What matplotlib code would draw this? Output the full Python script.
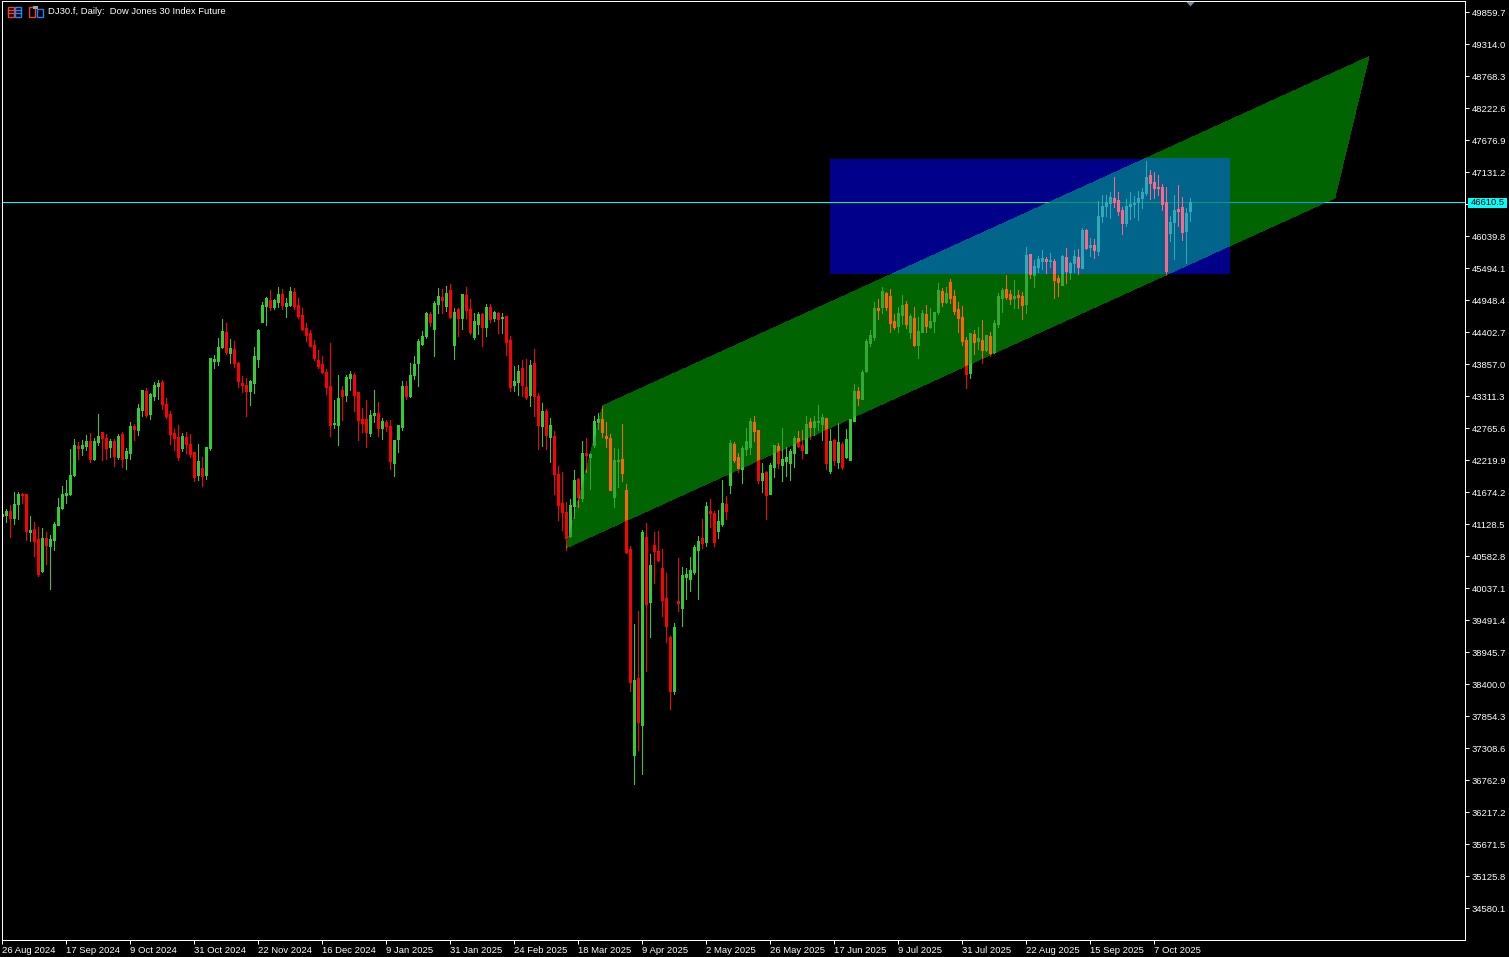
"""MT5 style daily candle chart of DJ30.f with channel, rectangle and price line."""

import matplotlib
matplotlib.use("Agg")
import matplotlib.pyplot as plt
from matplotlib.patches import PathPatch, Rectangle
from matplotlib.path import Path
from matplotlib.transforms import Bbox

plt.rcParams["font.family"] = ["Liberation Sans", "DejaVu Sans"]

# ---------------------------------------------------------------------------
# Data (prices)
# ---------------------------------------------------------------------------

highs = [
    41308, 41393, 41461, 41683, 41683, 41671, 41649, 41273, 41171, 41086, 41069, 41001, 40949, 41171, 41580,
    41785, 41887, 42416, 42586, 42535, 42569, 42655, 42689, 42603, 43013, 42706, 42672, 42586, 42586, 42672,
    42706, 42433, 42876, 42842, 43183, 43422, 43456, 43371, 43558, 43592, 43592, 43286, 43064, 42757, 42825,
    42689, 42706, 42672, 42365, 42501,
    42279, 42450,
    43968, 44019, 44309, 44633, 44565, 44292, 44258, 43900, 43661, 43627, 43593, 44156, 44462, 44923, 45008,
    45127, 44974, 45179, 45145, 44991, 45179, 45162, 44991, 44821, 44565, 44445, 44275, 44104, 44002, 43780,
    44224, 43252, 43678, 43490, 43678, 43746, 43712, 43388, 43115, 43252, 43081, 43422, 43218, 42945, 42911,
    42911, 42570, 42825, 43576, 43576, 43883, 44002, 44292, 44428, 44752, 44752, 44940, 45162, 45145, 45196,
    45230, 44821, 44821, 45059, 45179, 44974, 44735, 44752,
    44735, 44889, 44889, 44769, 44752, 44735, 44684, 44343, 43832, 43849, 43934, 43951, 43934, 44121, 43371,
    43201, 43098, 42945, 42723, 42126, 42024, 41512, 41564, 42058, 41922, 42553, 42604, 42348, 42979, 43030,
    43149, 42877, 42672, 42433, 42416, 42843,
    41819,
    40762, 39432, 39653, 41034, 41154, 40625, 41000, 41017, 40710, 40301, 39227, 39449, 40557, 40404, 40386,
    40574, 40779, 40932, 41222, 41512,
    41564, 41359, 41376, 41888, 41615, 42570, 42536, 42348, 42468, 42775, 42945, 42979, 42740, 42178, 42041,
    42178, 42485, 42519, 42775, 42451, 42416, 42638, 42723, 42740, 42979, 42945, 42979, 43167, 43013, 42945,
    42757, 42587, 42860, 42536, 42757, 42928, 43525, 43474,
    43763, 44292, 44445, 44923, 44974, 45179, 45093, 45144, 44718, 44838, 45042, 44940, 44718, 44838, 44667,
    44786, 44872, 44821, 44752, 45247, 45162, 45179, 45315, 45127, 44923, 44855, 44326, 44394, 44445, 44497,
    44616, 44360, 44411, 44616, 45076, 45162, 45383, 45127, 45298, 45127, 45093,
    45861, 45742, 45639, 45708, 45810, 45690, 45759, 45656, 45383, 45725, 45844, 45605, 45810, 45827, 46185,
    46168, 46014, 45997, 46645, 46748, 46748, 46799, 47055, 46799, 46543, 46679, 46799, 46731, 46816, 46867,
    47327, 47174, 47140, 47089, 46935, 46884, 46390, 46748, 46918, 46714, 46526, 46697,
]

body_tops = [
    41308, 41359, 41359, 41478, 41649, 41649, 41649, 41035, 41052, 40881, 40898, 40898, 40881, 41137, 41427,
    41649, 41666, 41973, 42484, 42467, 42484, 42552, 42552, 42552, 42638, 42706, 42603, 42552, 42552, 42638,
    42672, 42382, 42808, 42808, 43115, 43422, 43405, 43354, 43507, 43541, 43558, 43183, 43013, 42689, 42621,
    42638, 42621, 42501, 42365, 42211,
    42092, 42450,
    43968, 43951, 44156, 44428, 44411, 44138, 44121, 43883, 43542, 43508, 43576, 44002, 44445, 44872, 44991,
    44957, 44957, 45059, 45059, 44906, 45110, 45093, 44872, 44701, 44480, 44394, 44190, 43934, 43866, 43729,
    43490, 42860, 43286, 43422, 43644, 43695, 43678, 43388, 42928, 42928, 42996, 43030, 43030, 42894, 42877,
    42808, 42570, 42825, 43490, 43490, 43678, 43866, 44258, 44343, 44735, 44718, 44906, 45025, 45008, 45076,
    45127, 44752, 44803, 45059, 45042, 44803, 44599, 44718,
    44718, 44838, 44838, 44752, 44735, 44667, 44684, 44275, 43576, 43746, 43797, 43473, 43849, 43883, 43320,
    43064, 43064, 42825, 42638, 41990, 41495, 41342, 41461, 41888, 41905, 42348, 42348, 42331, 42894, 42928,
    42928, 42638, 42604, 42229, 42229, 42246,
    41717,
    40710, 38477, 38511, 41000, 40915, 40438, 40779, 40676, 40386, 39875, 39210, 39380, 39824, 40267, 40284,
    40352, 40745, 40847, 40898, 41444,
    41359, 41325, 41189, 41496, 41479, 42519, 42502, 42280, 42433, 42553, 42894, 42877, 42740, 42007, 42024,
    42144, 42485, 42468, 42246, 42280, 42382, 42604, 42604, 42485, 42843, 42877, 42894, 42894, 42962, 42945,
    42553, 42570, 42536, 42502, 42587, 42928, 43405, 43405,
    43729, 44258, 44360, 44821, 44821, 45110, 45076, 45025, 44599, 44735, 44872, 44889, 44684, 44650, 44428,
    44735, 44718, 44599, 44752, 45127, 45110, 45076, 45264, 45025, 44803, 44667, 44275, 44394, 44377, 44309,
    44275, 44360, 44343, 44565, 45025, 45127, 45144, 45059, 45025, 45042, 45025,
    45725, 45742, 45537, 45656, 45673, 45656, 45639, 45622, 45332, 45708, 45690, 45588, 45708, 45690, 46151,
    46151, 45895, 45895, 46390, 46560, 46628, 46714, 46697, 46662, 46492, 46560, 46594, 46611, 46697, 46799,
    47055, 47089, 46969, 46884, 46884, 46628, 46287, 46492, 46509, 46543, 46441, 46628,
]

body_bottoms = [
    41273, 41290, 41239, 41239, 41478, 41631, 41018, 41001, 40847, 40284, 40336, 40779, 40762, 40864, 41120,
    41410, 41631, 41649, 41973, 42433, 42433, 42467, 42245, 42245, 42535, 42603, 42433, 42450, 42297, 42279,
    42245, 42262, 42348, 42757, 42740, 43081, 42996, 43013, 43320, 43490, 43183, 42979, 42672, 42603, 42279,
    42433, 42501, 42331, 41938, 41973,
    41955, 41973,
    42433, 43917, 43917, 44156, 44070, 44053, 43883, 43576, 43508, 43405, 43405, 43542, 43951, 44582, 44855,
    44838, 44838, 44923, 44872, 44855, 44872, 44855, 44684, 44462, 44360, 44173, 43968, 43832, 43729, 43473,
    42825, 42842, 42825, 43320, 43337, 43627, 43337, 42911, 42860, 42706, 42689, 42996, 42774, 42774, 42808,
    42212, 42178, 42587, 42791, 43320, 43320, 43678, 43883, 44207, 44343, 44582, 44462, 44889, 44957, 44855,
    44667, 44190, 44650, 44650, 44786, 44411, 44326, 44548,
    44497, 44497, 44633, 44650, 44633, 44650, 44241, 43473, 43508, 43559, 43508, 43303, 43337, 43320, 42825,
    42808, 42655, 42621, 41990, 41461, 41342, 40899, 40933, 41444, 41598, 41581, 42314, 42280, 42484, 42877,
    42706, 42604, 41717, 41598, 42212, 42007,
    40659,
    38442, 37198, 37760, 37709, 39773, 39807, 40676, 40523, 39841, 39397, 38289, 38289, 39790, 39704, 40233,
    40199, 40318, 40693, 40813, 40830,
    41325, 40831, 41017, 41137, 41359, 41803, 42229, 42092, 42075, 42416, 42451, 42723, 41888, 41888, 41632,
    41649, 42109, 42178, 42144, 42212, 42178, 42348, 42468, 42399, 42348, 42792, 42792, 42877, 42843, 42178,
    42041, 42229, 42195, 42109, 42280, 42229, 42894, 43286,
    43269, 43746, 44224, 44326, 44786, 44838, 44838, 44565, 44497, 44514, 44701, 44548, 44411, 44190, 44190,
    44411, 44514, 44497, 44599, 44752, 44923, 44923, 44991, 44769, 44650, 44258, 43695, 43712, 44241, 44258,
    44104, 44104, 44053, 44070, 44548, 44991, 45008, 44974, 44991, 45008, 44872,
    44889, 45401, 45383, 45520, 45622, 45622, 45622, 45298, 45264, 45213, 45452, 45435, 45588, 45520, 45503,
    45844, 45861, 45810, 45793, 46390, 46560, 46611, 46628, 46475, 46270, 46270, 46560, 46594, 46628, 46697,
    46782, 46952, 46867, 46867, 46594, 45452, 46100, 46287, 46475, 46117, 46134, 46475,
]

lows = [
    41273, 41171, 40915, 41137, 41222, 41495, 40864, 40847, 40591, 40250, 40318, 40455, 40029, 40694, 41120,
    41393, 41495, 41631, 41955, 42245, 42314, 42399, 42194, 42228, 42484, 42228, 42245, 42279, 42126, 42245,
    42109, 42075, 42245, 42569, 42655, 42979, 42962, 42927, 43251, 43268, 43098, 42945, 42501, 42399, 42228,
    42382, 42348, 42279, 41870, 41887,
    41785, 41904,
    42399, 43797, 43849, 44138, 44036, 43883, 43814, 43473, 43388, 42979, 43166, 43371, 43814, 44582, 44531,
    44786, 44803, 44838, 44803, 44667, 44855, 44803, 44650, 44445, 44258, 44173, 43934, 43797, 43712, 43354,
    42638, 42774, 42484, 42911, 43235, 43422, 43064, 42570, 42706, 42450, 42638, 42877, 42638, 42587, 42723,
    42075, 41956, 42365, 42740, 43269, 43303, 43610, 43490, 44190, 44309, 44514, 44002, 44735, 44735, 44769,
    44650, 43951, 44343, 44462, 44650, 44377, 44292, 44377,
    44173, 44343, 44582, 44599, 44394, 44394, 44019, 43405, 43405, 43337, 43320, 43269, 43149, 42979, 42416,
    42467, 42416, 42195, 41649, 41205, 41035, 40694, 40916, 41240, 41427, 41530, 42024, 41734, 42450, 42757,
    42621, 42450, 41717, 41427, 41768, 41871,
    40642,
    38289, 36703, 37283, 36874, 38630, 39210, 40131, 40506, 39568, 39125, 37982, 38238, 39653, 39397, 39858,
    39994, 40284, 39858, 40728, 40762,
    41086, 40762, 40898, 41103, 41223, 41666, 42195, 42024, 41837, 42314, 42331, 42553, 41837, 41683, 41223,
    41649, 41939, 42092, 41871, 41956, 41888, 42109, 42451, 42263, 42348, 42587, 42655, 42740, 42570, 42075,
    42007, 42144, 42092, 42075, 42263, 42229, 42894, 43167,
    43269, 43729, 44173, 44275, 44633, 44735, 44786, 44411, 44462, 44411, 44548, 44479, 44309, 44173, 43968,
    44411, 44411, 44479, 44411, 44718, 44855, 44906, 44906, 44718, 44411, 44190, 43456, 43627, 44036, 44121,
    43883, 44087, 44002, 44053, 44497, 44752, 44974, 44889, 44821, 44821, 44633,
    44736, 45332, 45179, 45435, 45486, 45418, 45520, 44991, 45025, 45213, 45247, 45315, 45435, 45401, 45503,
    45827, 45708, 45673, 45725, 46287, 46390, 46355, 46543, 46407, 46083, 46219, 46338, 46373, 46321, 46526,
    46748, 46679, 46697, 46748, 46492, 45383, 45963, 45656, 46219, 45980, 45588, 46304,
]

# u = close above open, d = close below open
directions = (
    "uuduuddudd" "uduuuuuuud" "uuduuddudu" "duuduuduuu" "dddddudddu"
    "duuuuududd" "dduuuuuduu" "duuddddddd" "ddduuduudd" "dduududduu"
    "uduuuuuduu" "dudududduu" "dudududduu" "dduddududd" "dduududuuu"
    "ddduudddud" "ududddddud" "uuuuududdu" "ududduuudd" "uduuduuuud"
    "duduuududu" "duuuduuuud" "uddduududu" "uduuududdd" "ddudududuu"
    "uddudduduu" "ududduduud" "ududuuuudd" "duuuuuuddd" "dduudduu"
)

price_ticks = [
    49859.7, 49314.0, 48768.3, 48222.6, 47676.9, 47131.2, 46585.5, 46039.8, 45494.1, 44948.4,
    44402.7, 43857.0, 43311.3, 42765.6, 42219.9, 41674.2, 41128.5, 40582.8, 40037.1, 39491.4,
    38945.7, 38400.0, 37854.3, 37308.6, 36762.9, 36217.2, 35671.5, 35125.8, 34580.1,
]
hidden_tick = 46585.5

date_labels = [
    "26 Aug 2024", "17 Sep 2024", "9 Oct 2024", "31 Oct 2024", "22 Nov 2024", "16 Dec 2024",
    "9 Jan 2025", "31 Jan 2025", "24 Feb 2025", "18 Mar 2025", "9 Apr 2025", "2 May 2025",
    "26 May 2025", "17 Jun 2025", "9 Jul 2025", "31 Jul 2025", "22 Aug 2025", "15 Sep 2025",
    "7 Oct 2025",
]
date_step = 16

# objects on the chart, (bar number, price)
channel_pts = [(140.9, 40728), (150.1, 43149), (341.6, 49101), (333.1, 46696)]
rect_bars = (207.0, 306.9)
rect_prices = (45400, 47362)
last_price = 46610.5
marker_bar = 297
marker_price = 50047

UP = "#32CD32"
DOWN = "#FF0000"
GREEN = "#006400"
BLUE = "#00008B"
CYAN = "#00FFFF"

W, H = 1509, 957
px = 72 / 100  # one pixel in points


def xor(c1, c2):
    """MT5 paints its objects with XOR, candles on the fill change colour that way."""
    a = int(c1[1:], 16)
    b = int(c2[1:], 16)
    return f"#{a ^ b:06X}"


def draw_candles(ax, tint, clip):
    xs = list(range(len(highs)))
    colors = []
    for d in directions:
        base = UP if d == "u" else DOWN
        colors.append(xor(base, tint) if tint else base)
    wicks = ax.vlines(xs, lows, highs, colors=colors, linewidths=px, zorder=3)
    bodies = ax.vlines(xs, body_bottoms, body_tops, colors=colors, linewidths=3 * px, zorder=3)
    for coll in (wicks, bodies):
        coll.set_antialiased(False)
        coll.set_capstyle("butt")
        if clip is not None:
            coll.set_clip_path(clip, transform=ax.transData)


def main():
    sizes = [len(highs), len(lows), len(body_tops), len(body_bottoms), len(directions)]
    if len(set(sizes)) != 1:
        raise ValueError(f"series lengths differ: {sizes}")

    fig = plt.figure(figsize=(W / 100, H / 100), dpi=100, facecolor="black")
    # the .4/.6 keep the spines on the same pixel rows as the reference after snapping
    ax = fig.add_axes([2.4 / W, 16.6 / H, 1463 / W, 939 / H], facecolor="black")
    ax.set_xlim(0, 1463 / 4)
    ax.set_ylim(34034.5, 50047.3)

    channel = Path(channel_pts + [channel_pts[0]], closed=True)
    rect = Path([(rect_bars[0], rect_prices[0]), (rect_bars[0], rect_prices[1]),
                 (rect_bars[1], rect_prices[1]), (rect_bars[1], rect_prices[0]),
                 (rect_bars[0], rect_prices[0])], closed=True)
    box = Bbox.from_extents(rect_bars[0], rect_prices[0], rect_bars[1], rect_prices[1])
    overlap = channel.clip_to_bbox(box)

    overlap_tint = xor(GREEN, BLUE)
    for path, color in ((channel, GREEN), (rect, BLUE), (overlap, overlap_tint)):
        ax.add_patch(PathPatch(path, fc=color, ec="none", lw=0, antialiased=False, zorder=1))

    # price line and candles, once per colour zone
    for clip, tint in ((None, None), (channel, GREEN), (rect, BLUE), (overlap, overlap_tint)):
        line_color = xor(CYAN, tint) if tint else CYAN
        # very thin and unsnapped so it lands on one pixel row only
        line = ax.axhline(last_price, color=line_color, lw=0.1 * px, zorder=2, antialiased=False)
        line.set_snap(False)
        if clip is not None:
            line.set_clip_path(clip, transform=ax.transData)
        draw_candles(ax, tint, clip)

    ax.plot([marker_bar], [marker_price], marker=[(-4.5, 0), (4.5, 0), (0, -5)], ms=7.2,
            color="#778899", mew=0, zorder=4)

    # axes furniture
    for side in ("top", "bottom", "left", "right"):
        ax.spines[side].set_color("white")
        ax.spines[side].set_linewidth(px)
        ax.spines[side].set_zorder(5)
    ax.yaxis.tick_right()
    ax.set_yticks(price_ticks)
    ax.set_yticklabels(["" if t == hidden_tick else f"{t:.1f}" for t in price_ticks])
    ax.set_xticks([i * date_step for i in range(len(date_labels))])
    ax.set_xticklabels(date_labels, ha="left")
    ax.tick_params(axis="y", length=3, width=px, color="white", labelcolor="white", labelsize=6.8, pad=1.5)
    ax.tick_params(axis="x", length=3, width=px, color="white", labelcolor="white", labelsize=6.8, pad=1)
    for lab in ax.get_xticklabels():
        lab.set_horizontalalignment("left")

    # header and price tag, drawn in picture pixels
    ov = fig.add_axes([0, 0, 1, 1], facecolor="none")
    ov.set_xlim(0, W)
    ov.set_ylim(H, 0)
    ov.axis("off")
    ov.text(48, 11.5, "DJ30.f, Daily:  Dow Jones 30 Index Future", color="white",
            fontsize=6.8, va="center", ha="left")
    ov.add_patch(Rectangle((1468, 198), 39, 9.5, fc=CYAN, ec="none", antialiased=False))
    ov.text(1471, 202.8, f"{last_price:.1f}", color="black", fontsize=6.8, va="center", ha="left")

    red, blue = "#F04030", "#2F7FF0"
    icon_lw = 1.0
    ov.add_patch(Rectangle((8, 6.5), 6, 10, fc="none", ec=red, lw=icon_lw))
    ov.add_patch(Rectangle((15, 6.5), 6, 10, fc="none", ec=blue, lw=icon_lw))
    for y in (9.8, 13):
        ov.plot([8, 14], [y, y], color=red, lw=icon_lw)
        ov.plot([15, 21], [y, y], color=blue, lw=icon_lw)
    ov.add_patch(Rectangle((29, 6.5), 6, 10, fc="none", ec=red, lw=icon_lw))
    ov.add_patch(Rectangle((37, 9), 5.5, 7.5, fc="none", ec=blue, lw=icon_lw))
    ov.add_patch(Rectangle((33, 6), 5, 3, fc="#A0A0A0", ec="none"))

    fig.savefig("out.png", dpi=100, facecolor="black")
    plt.close(fig)


if __name__ == "__main__":
    main()
